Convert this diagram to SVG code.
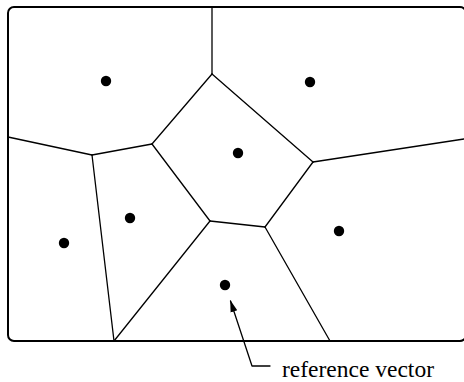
<svg xmlns="http://www.w3.org/2000/svg" width="464" height="382" viewBox="0 0 464 382">
<style>
.edge{stroke:#000;stroke-width:1.3;fill:none;stroke-linecap:round;stroke-linejoin:round}
.frame{stroke:#000;stroke-width:2;fill:none}
.dot{fill:#000}
.lbl{font-family:"Liberation Serif","Times New Roman",serif;font-size:23.5px;fill:#000}
</style>
<defs>
<marker id="ah" viewBox="0 0 12 10" refX="11" refY="5" markerWidth="12" markerHeight="10" markerUnits="userSpaceOnUse" orient="auto">
<path d="M0,1.5 L12,5 L0,8.5 Z" fill="#000"/>
</marker>
</defs>
<rect width="464" height="382" fill="#fff"/>
<g id="frame"><rect class="frame" x="8" y="7" width="458" height="334" rx="6"/></g>
<g id="connectors">
<path class="edge" d="M212,7 L212,74"/>
<path class="edge" d="M212,74 L152,144"/>
<path class="edge" d="M212,74 L313,162"/>
<path class="edge" d="M313,162 L464,139"/>
<path class="edge" d="M152,144 L92,155"/>
<path class="edge" d="M92,155 L8,137"/>
<path class="edge" d="M152,144 L210,221"/>
<path class="edge" d="M210,221 L265,227"/>
<path class="edge" d="M313,162 L265,227"/>
<path class="edge" d="M265,227 L330,341"/>
<path class="edge" d="M210,221 L114,341"/>
<path class="edge" d="M92,155 L114,341"/>
<path class="edge" d="M270,366 L252,366 L230.5,301" marker-end="url(#ah)"/>
</g>
<g id="dots">
<circle class="dot" cx="106" cy="81" r="5.2"/>
<circle class="dot" cx="310" cy="82" r="5.2"/>
<circle class="dot" cx="238" cy="153" r="5.2"/>
<circle class="dot" cx="130" cy="218" r="5.2"/>
<circle class="dot" cx="64" cy="243" r="5.2"/>
<circle class="dot" cx="339" cy="231" r="5.2"/>
<circle class="dot" cx="225" cy="285" r="5.2"/>
</g>
<g id="label"><text class="lbl" x="282" y="377">reference vector</text></g>
</svg>
